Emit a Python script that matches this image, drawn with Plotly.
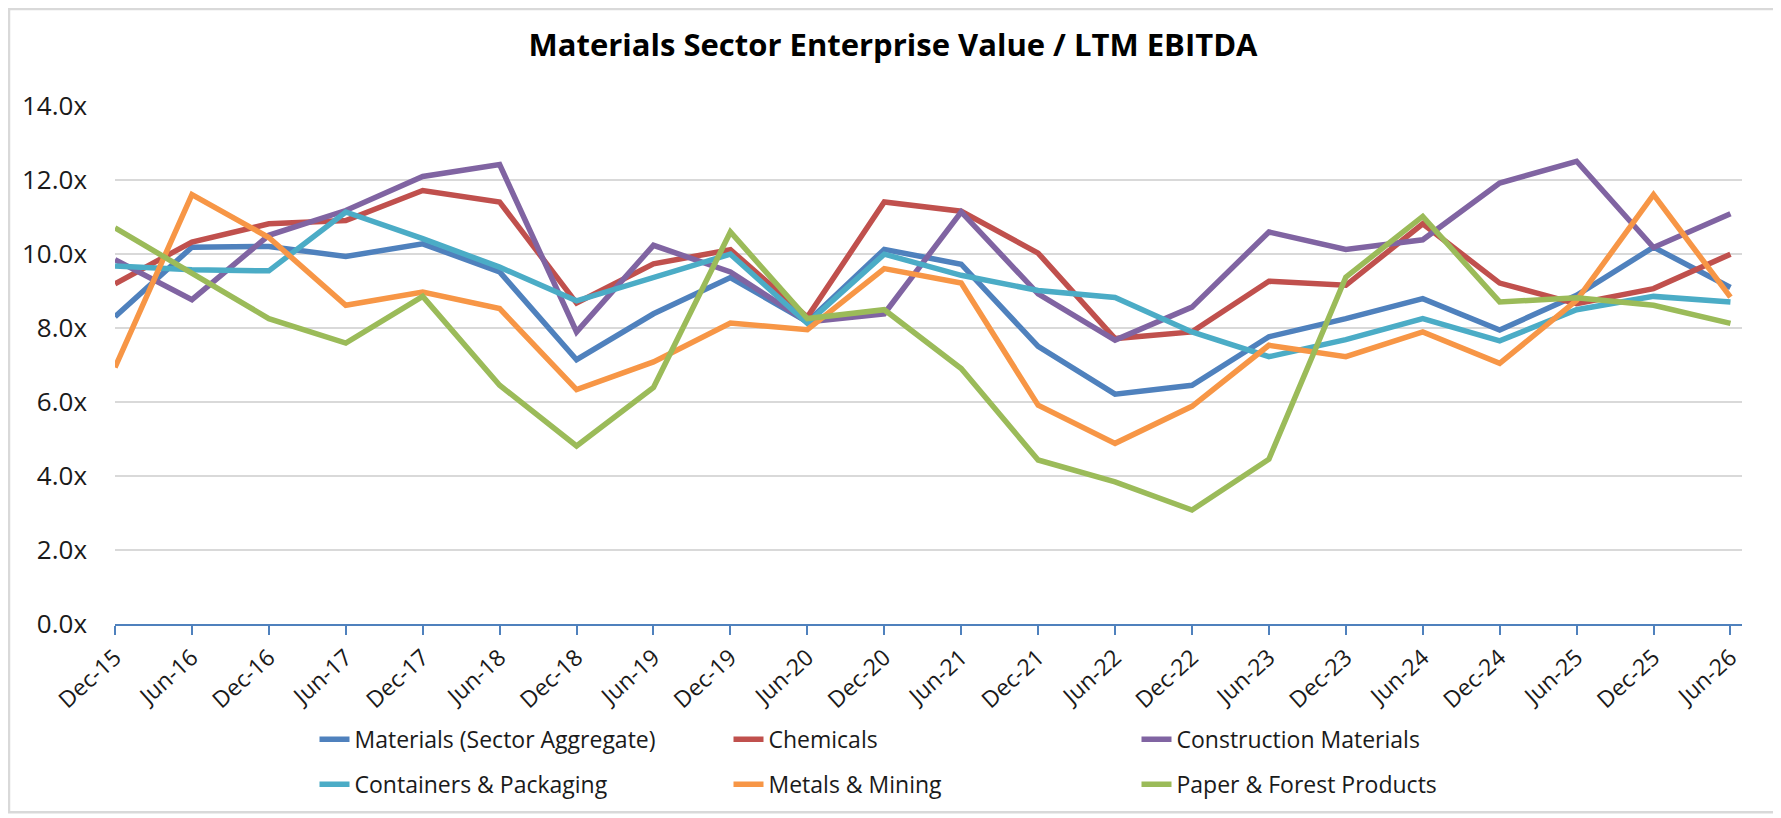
import plotly.graph_objects as go

categories = ["Dec-15", "Jun-16", "Dec-16", "Jun-17", "Dec-17", "Jun-18", "Dec-18", "Jun-19",
              "Dec-19", "Jun-20", "Dec-20", "Jun-21", "Dec-21", "Jun-22", "Dec-22", "Jun-23",
              "Dec-23", "Jun-24", "Dec-24", "Jun-25", "Dec-25", "Jun-26"]

materials = [8.30, 10.18, 10.20, 9.93, 10.27, 9.51, 7.14, 8.38, 9.36, 8.16, 10.12, 9.72,
             7.50, 6.21, 6.45, 7.76, 8.25, 8.79, 7.94, 8.88, 10.18, 9.09]
chemicals = [9.19, 10.32, 10.81, 10.90, 11.71, 11.40, 8.67, 9.73, 10.11, 8.29, 11.40, 11.15,
             10.02, 7.71, 7.89, 9.26, 9.15, 10.81, 9.21, 8.65, 9.06, 9.99]
construction = [9.84, 8.76, 10.50, 11.17, 12.09, 12.41, 7.89, 10.23, 9.51, 8.16, 8.38, 11.13,
                8.92, 7.67, 8.56, 10.59, 10.12, 10.38, 11.91, 12.50, 10.17, 11.08]
containers = [9.67, 9.57, 9.54, 11.13, 10.41, 9.64, 8.73, 9.37, 9.99, 8.12, 9.99, 9.42,
              9.01, 8.82, 7.89, 7.22, 7.68, 8.25, 7.65, 8.49, 8.85, 8.70]
metals = [6.93, 11.60, 10.44, 8.61, 8.97, 8.52, 6.33, 7.08, 8.13, 7.95, 9.60, 9.21,
          5.91, 4.88, 5.88, 7.53, 7.22, 7.89, 7.04, 8.74, 11.60, 8.83]
paper = [10.70, 9.48, 8.25, 7.59, 8.85, 6.45, 4.81, 6.39, 10.59, 8.25, 8.49, 6.90,
         4.43, 3.84, 3.08, 4.45, 9.37, 11.01, 8.70, 8.81, 8.61, 8.12]

y_ticks = [0, 2, 4, 6, 8, 10, 12, 14]
y_tick_labels = ["0.0x", "2.0x", "4.0x", "6.0x", "8.0x", "10.0x", "12.0x", "14.0x"]

series = [
    ("Materials (Sector Aggregate)", materials, "#4F81BD"),
    ("Chemicals", chemicals, "#C0504D"),
    ("Construction Materials", construction, "#8064A2"),
    ("Containers & Packaging", containers, "#4BACC6"),
    ("Metals & Mining", metals, "#F79646"),
    ("Paper & Forest Products", paper, "#9BBB59"),
]

FONT = "Open Sans, Calibri, sans-serif"

# Layout geometry (pixels, figure coordinates; page adds an 8px body margin)
W, H = 1773, 810
L, T = 107, 97
PLOT_BOTTOM = 616.5
PLOT_RIGHT = 1734
PW = PLOT_RIGHT - L
PH = PLOT_BOTTOM - T

def px_x(X):
    return (X - L) / PW

def px_y(Y):
    return (PLOT_BOTTOM - Y) / PH

legend_names = ["legend", "legend2", "legend3", "legend4", "legend5", "legend6"]
# text start x and row centre y for each entry
legend_pos = [(348, 732), (762, 732), (1170, 732), (348, 777), (762, 777), (1170, 777)]

fig = go.Figure()
for i, (name, vals, col) in enumerate(series):
    fig.add_trace(go.Scatter(
        x=categories, y=vals, name=name, mode="lines",
        line=dict(color=col, width=5.5),
        legend=legend_names[i],
    ))

legend_font = dict(family=FONT, size=23, color="#1a1a1a")
layout_legends = {}
for i, ln in enumerate(legend_names):
    tx, ty = legend_pos[i]
    layout_legends[ln] = dict(
        x=px_x(tx - 41.5), y=px_y(ty), xanchor="left", yanchor="middle",
        orientation="v", font=legend_font, bgcolor="rgba(0,0,0,0)",
        borderwidth=0, itemwidth=30,
    )

fig.update_layout(
    width=W, height=H,
    margin=dict(l=L, r=W - PLOT_RIGHT, t=T, b=H - PLOT_BOTTOM, pad=0),
    paper_bgcolor="white", plot_bgcolor="white",
    title=dict(text="<b>Materials Sector Enterprise Value / LTM EBITDA</b>",
               x=885 / W, xanchor="center", y=1 - 37 / H, yanchor="middle",
               font=dict(family=FONT, size=31, color="#000000")),
    showlegend=True,
    **layout_legends,
)

fig.update_xaxes(
    type="category", range=[0, 21.15],
    showgrid=False, showline=True, linecolor="#4F81BD", linewidth=2,
    ticks="outside", ticklen=9, tickwidth=2, tickcolor="#4F81BD",
    tickangle=-42, tickfont=dict(family=FONT, size=23, color="#1a1a1a"),
    fixedrange=True,
)
fig.update_yaxes(
    range=[0, 14.02], tickvals=y_ticks, ticktext=y_tick_labels,
    showgrid=True, gridcolor="#D9D9D9", gridwidth=2,
    zeroline=False, showline=False, ticks="", ticklabelstandoff=27,
    tickfont=dict(family=FONT, size=26, color="#1a1a1a"),
    fixedrange=True,
)

# outer chart border
fig.add_shape(type="rect", xref="paper", yref="paper",
              x0=px_x(1), x1=px_x(1767), y0=px_y(805), y1=px_y(1),
              line=dict(color="#D9D9D9", width=2.5), fillcolor="rgba(0,0,0,0)", layer="below")

fig.write_html("out.html")
